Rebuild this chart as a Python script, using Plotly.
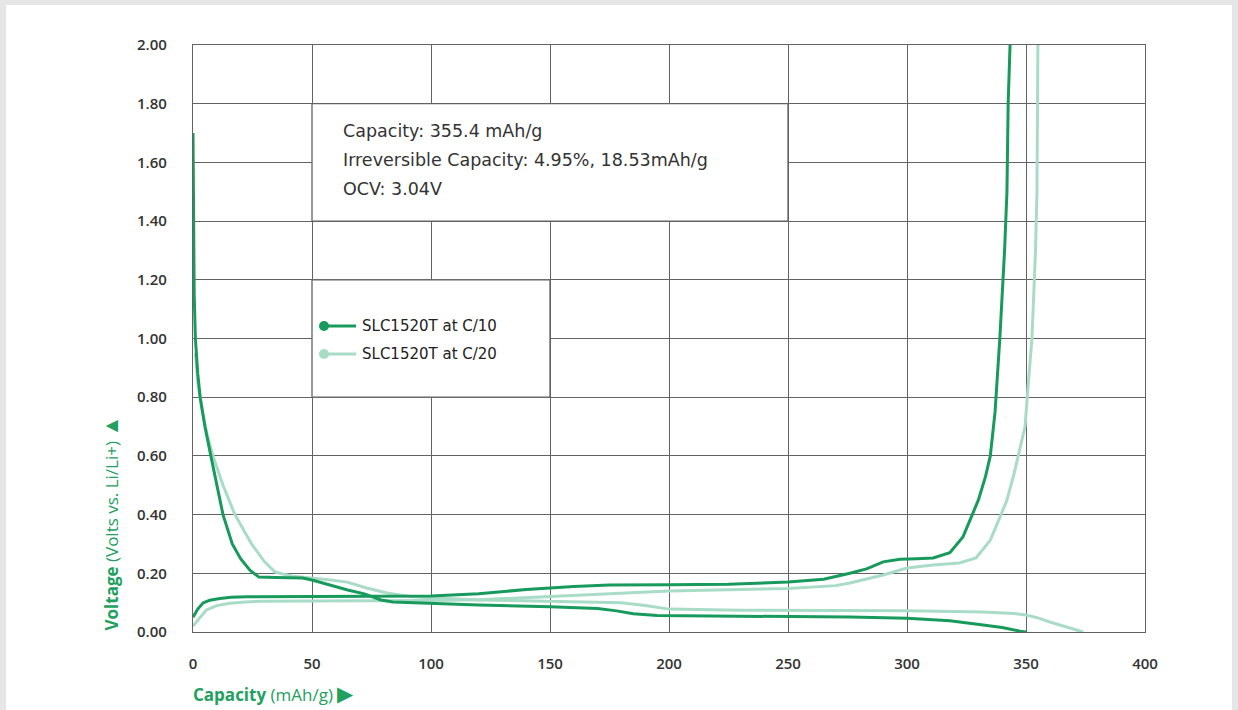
import plotly.graph_objects as go

# ---------------- data ----------------
c10_dis_x = [0, 0.2, 0.5, 1, 2, 3, 5, 7.5, 10, 12.6, 16.5, 20, 24, 27.7, 35, 46, 50, 57, 65, 72, 79, 84, 100, 120, 150, 170, 178, 185, 195, 220, 250, 276, 300, 318, 332, 340, 347.5, 350]
c10_dis_v = [1.70, 1.40, 1.15, 1.0, 0.88, 0.80, 0.70, 0.60, 0.50, 0.40, 0.30, 0.25, 0.21, 0.187, 0.186, 0.184, 0.177, 0.16, 0.143, 0.13, 0.109, 0.102, 0.097, 0.092, 0.086, 0.08, 0.072, 0.062, 0.056, 0.055, 0.053, 0.051, 0.047, 0.038, 0.024, 0.015, 0.003, 0.0]

c10_chg_x = [0, 1, 2, 4.2, 7, 11.3, 16, 22.7, 37, 60, 100, 120, 140, 160, 175, 200, 225, 250, 265, 276, 283, 290, 297, 304, 311, 318, 323.5, 327.7, 330, 333, 335, 337, 339, 341, 342, 342.5, 343.3]
c10_chg_v = [0.05, 0.065, 0.078, 0.099, 0.108, 0.114, 0.118, 0.12, 0.121, 0.121, 0.123, 0.13, 0.145, 0.155, 0.16, 0.161, 0.163, 0.17, 0.18, 0.2, 0.215, 0.239, 0.248, 0.25, 0.252, 0.27, 0.324, 0.405, 0.45, 0.53, 0.6, 0.75, 1.0, 1.3, 1.5, 1.8, 2.0]

c20_dis_x = [1, 2, 4, 6, 8.4, 12.6, 17.6, 24.6, 30, 34.5, 42, 50, 57, 64.7, 73, 81.5, 92, 120, 150, 180, 190, 200, 230, 276, 300, 332, 345, 350, 355, 360, 367, 374]
c20_dis_v = [0.95, 0.85, 0.75, 0.67, 0.60, 0.50, 0.40, 0.30, 0.24, 0.204, 0.19, 0.184, 0.178, 0.17, 0.15, 0.133, 0.12, 0.109, 0.105, 0.1, 0.09, 0.078, 0.074, 0.072, 0.072, 0.068, 0.063, 0.058, 0.048, 0.034, 0.018, 0.0]

c20_chg_x = [0, 1, 2, 5.6, 10, 15.5, 22, 29, 50, 100, 120, 150, 175, 200, 250, 270, 276, 290, 300, 311, 322, 329, 335, 339, 342, 345, 348, 349.6, 351, 352.5, 354, 354.6, 355]
c20_chg_v = [0.02, 0.03, 0.04, 0.075, 0.09, 0.098, 0.102, 0.105, 0.106, 0.107, 0.11, 0.12, 0.13, 0.14, 0.148, 0.158, 0.167, 0.194, 0.218, 0.228, 0.235, 0.252, 0.313, 0.39, 0.45, 0.54, 0.64, 0.7, 0.85, 1.0, 1.3, 1.5, 2.0]

series_names = ["SLC1520T at C/10", "SLC1520T at C/20"]
info_lines = ["Capacity: 355.4 mAh/g", "Irreversible Capacity: 4.95%, 18.53mAh/g", "OCV: 3.04V"]
x_ticks = [0, 50, 100, 150, 200, 250, 300, 350, 400]
y_ticks = [0.0, 0.2, 0.4, 0.6, 0.8, 1.0, 1.2, 1.4, 1.6, 1.8, 2.0]

# ---------------- style ----------------
DARK = "#189a5c"
LIGHT = "#a9dcc7"
GRID = "#636363"
TXT = "#333333"
TITLE_GREEN = "#22a060"
FONT = "Open Sans"
FONT2 = "DejaVu Sans"

fig = go.Figure()
for xs, vs, col in [(c20_chg_x, c20_chg_v, LIGHT), (c20_dis_x, c20_dis_v, LIGHT),
                    (c10_chg_x, c10_chg_v, DARK), (c10_dis_x, c10_dis_v, DARK)]:
    fig.add_trace(go.Scatter(x=xs, y=vs, mode="lines", line=dict(color=col, width=3),
                             showlegend=False, hoverinfo="skip"))

# plot geometry (px)
L, R, T, B = 193, 93, 45, 78
W, H = 1238, 710
pw, ph = W - L - R, H - T - B

def px(xpix):
    return (xpix - L) / pw

def py(ypix):
    return (H - B - ypix) / ph

shapes = []
# card background
shapes.append(dict(type="rect", xref="paper", yref="paper", x0=px(6), x1=px(1232), y0=py(720), y1=py(5),
                   fillcolor="white", line=dict(width=0), layer="below"))
# info box
shapes.append(dict(type="rect", xref="x", yref="y", x0=50, x1=250, y0=1.4, y1=1.8,
                   fillcolor="white", line=dict(color=GRID, width=1.3), layer="between"))
# legend box
shapes.append(dict(type="rect", xref="x", yref="y", x0=50, x1=150, y0=0.8, y1=1.2,
                   fillcolor="white", line=dict(color=GRID, width=1.3), layer="between"))

annotations = []
for i, t in enumerate(info_lines):
    annotations.append(dict(x=px(341), y=py(131 + 29 * i), xref="paper", yref="paper", text=t,
                            showarrow=False, xanchor="left", yanchor="middle",
                            font=dict(family=FONT2, size=17.5, color=TXT)))

# legend glyphs
for i, (name, col) in enumerate(zip(series_names, [DARK, LIGHT])):
    yy = 326 + 28 * i
    shapes.append(dict(type="line", xref="paper", yref="paper", x0=px(324), x1=px(356), y0=py(yy), y1=py(yy),
                       line=dict(color=col, width=3), layer="above"))
    shapes.append(dict(type="circle", xref="paper", yref="paper", x0=px(319), x1=px(329), y0=py(yy + 5), y1=py(yy - 5),
                       fillcolor=col, line=dict(color=col, width=0), layer="above"))
    annotations.append(dict(x=px(360), y=py(yy), xref="paper", yref="paper", text=name,
                            showarrow=False, xanchor="left", yanchor="middle",
                            font=dict(family=FONT2, size=15, color="#222222")))

# axis titles
annotations.append(dict(x=px(110), y=py(633), xref="paper", yref="paper",
                        text="<b>Voltage</b> (Volts vs. Li/Li+) <span style='font-size:21px'>▲</span>", textangle=-90,
                        showarrow=False, xanchor="center", yanchor="bottom",
                        font=dict(family=FONT, size=17, color=TITLE_GREEN)))
annotations.append(dict(x=px(191), y=py(693), xref="paper", yref="paper",
                        text="<b>Capacity</b> (mAh/g) <span style='font-size:21px'>▶</span>",
                        showarrow=False, xanchor="left", yanchor="middle",
                        font=dict(family=FONT, size=17, color=TITLE_GREEN)))

fig.update_layout(
    width=W, height=H,
    margin=dict(l=L, r=R, t=T, b=B, pad=0),
    paper_bgcolor="#e6e6e6",
    plot_bgcolor="white",
    shapes=shapes,
    annotations=annotations,
    showlegend=False,
    xaxis=dict(range=[0, 400], tickvals=x_ticks, ticktext=[str(v) for v in x_ticks],
               showgrid=True, gridcolor=GRID, gridwidth=1.3, zeroline=False,
               showline=True, linecolor=GRID, linewidth=1.3, mirror=True,
               ticks="", ticklabelstandoff=18,
               tickfont=dict(family=FONT, size=15, color=TXT, weight=600)),
    yaxis=dict(range=[0, 2], tickvals=y_ticks, ticktext=[f"{v:.2f}" for v in y_ticks],
               showgrid=True, gridcolor=GRID, gridwidth=1.3, zeroline=False,
               showline=True, linecolor=GRID, linewidth=1.3, mirror=True,
               ticks="", ticklabelstandoff=22,
               tickfont=dict(family=FONT, size=15, color=TXT, weight=600)),
)

fig.write_html("out.html", config={"displayModeBar": False},
               post_script="document.body.style.margin='0';document.body.style.overflow='hidden';")
